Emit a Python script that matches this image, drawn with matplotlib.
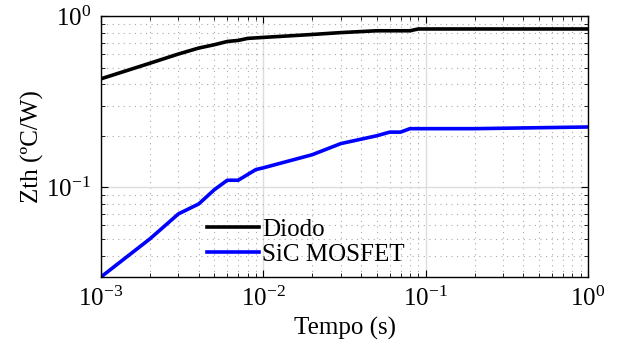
import matplotlib
matplotlib.use("Agg")
import matplotlib.pyplot as plt

plt.rcParams['font.family'] = ['Liberation Serif', 'DejaVu Serif']
plt.rcParams['mathtext.fontset'] = 'stix'

t_diodo = [1e-3, 2e-3, 3e-3, 4e-3, 5e-3, 6e-3, 7e-3, 8e-3, 1e-2, 2e-2, 3e-2, 5e-2, 8e-2, 9e-2, 1.0]
z_diodo = [0.43, 0.53, 0.60, 0.65, 0.68, 0.71, 0.72, 0.74, 0.75, 0.78, 0.80, 0.82, 0.82, 0.84, 0.84]

t_sic = [1e-3, 2e-3, 3e-3, 4e-3, 5e-3, 6e-3, 7e-3, 9e-3, 1e-2, 2e-2, 3e-2, 5e-2, 6e-2, 7e-2, 8e-2, 0.2, 1.0]
z_sic = [0.03, 0.05, 0.07, 0.08, 0.097, 0.11, 0.11, 0.127, 0.13, 0.155, 0.18, 0.20, 0.21, 0.21, 0.22, 0.22, 0.225]

labels = ['Diodo', 'SiC MOSFET']

fig = plt.figure(figsize=(6.17, 3.44), dpi=100)
ax = fig.add_axes([0.1637, 0.195, 0.7893, 0.7585])
ax.loglog(t_diodo, z_diodo, color='black', lw=2.6, label=labels[0])
ax.loglog(t_sic, z_sic, color=(0, 0, 1), lw=2.6, label=labels[1])
ax.set_xlim(1e-3, 1)
ax.set_ylim(0.03, 1)
ax.grid(True, which='major', color='#dddddd', lw=1.0, ls='-')
ax.grid(True, which='minor', color='#aaaaaa', lw=0.8, ls=(0, (1, 4)))
ax.tick_params(which='both', direction='in', top=True, right=True, labelsize=18, pad=7)
ax.tick_params(which='major', length=5)
ax.tick_params(which='minor', length=3)
ax.set_xlabel('Tempo (s)', fontsize=18, labelpad=4)
ax.set_ylabel('Zth (ºC/W)', fontsize=18, labelpad=2)
for s in ax.spines.values():
    s.set_linewidth(1.0)
leg = ax.legend(loc='upper left', bbox_to_anchor=(0.197, 0.262), frameon=False, fontsize=18,
                handlelength=2.1, handletextpad=0.1, labelspacing=0.1, borderaxespad=0)
fig.savefig('out.png', dpi=100)
